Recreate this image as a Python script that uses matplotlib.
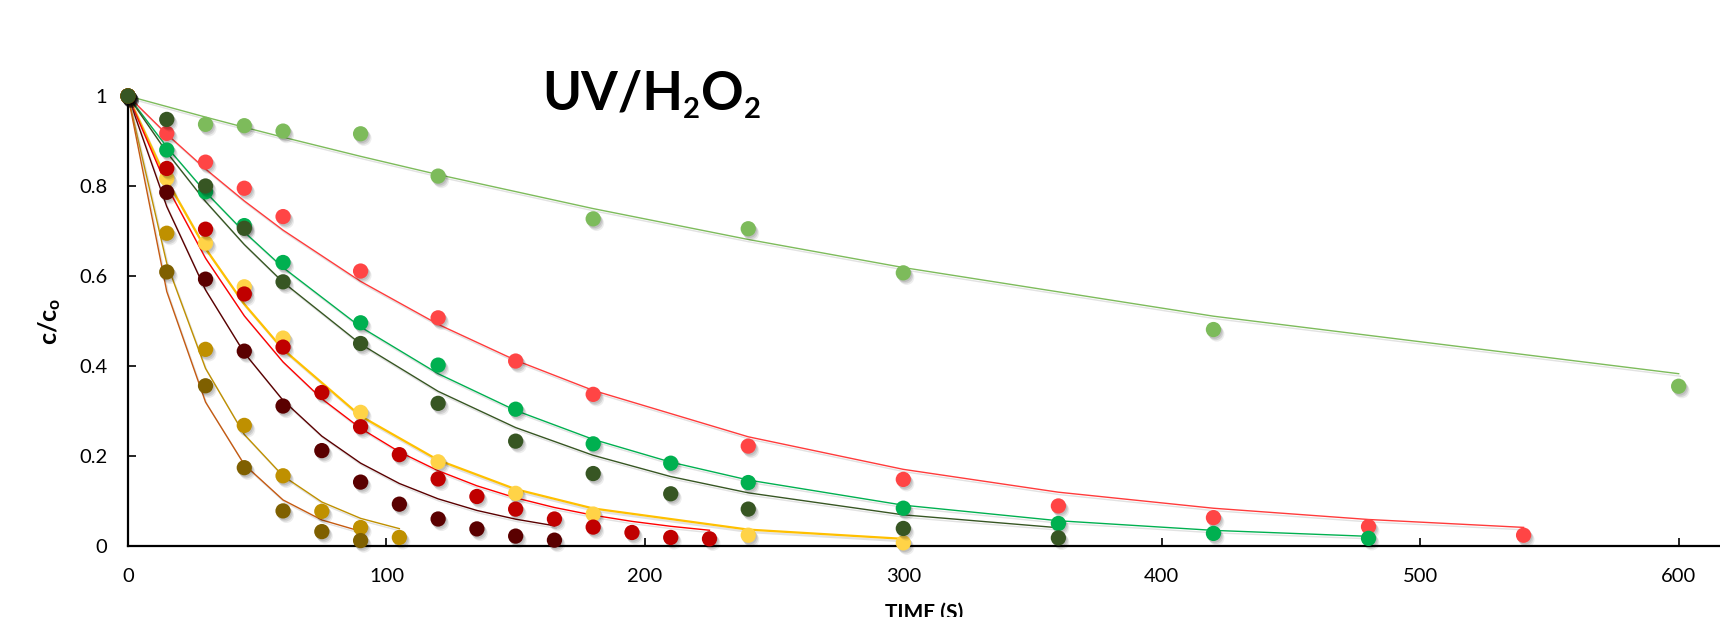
import matplotlib
matplotlib.use("Agg")
import matplotlib.pyplot as plt
import matplotlib.patheffects as pe
import numpy as np

plt.rcParams['font.family'] = ['Lato', 'DejaVu Sans']
plt.rcParams['mathtext.fontset'] = 'custom'
plt.rcParams['mathtext.rm'] = 'Lato:bold'
plt.rcParams['mathtext.it'] = 'Lato:bold'
plt.rcParams['mathtext.bf'] = 'Lato:bold'

# ---- data ----
A_t = [0, 30, 45, 60, 90, 120, 180, 240, 300, 420, 600]
A_c = [1, 0.937, 0.934, 0.922, 0.916, 0.822, 0.727, 0.705, 0.607, 0.481, 0.355]

B_t = [0, 15, 30, 45, 60, 90, 120, 150, 180, 240, 300, 360, 420, 480, 540]
B_c = [1, 0.917, 0.853, 0.795, 0.732, 0.611, 0.507, 0.411, 0.337, 0.222, 0.148, 0.089, 0.063, 0.043, 0.024]

C_t = [0, 15, 30, 45, 60, 90, 120, 150, 180, 210, 240, 300, 360, 420, 480]
C_c = [1, 0.880, 0.787, 0.712, 0.630, 0.496, 0.402, 0.304, 0.227, 0.184, 0.141, 0.084, 0.050, 0.028, 0.017]

D_t = [0, 15, 30, 45, 60, 90, 120, 150, 180, 210, 240, 300, 360]
D_c = [1, 0.948, 0.800, 0.706, 0.587, 0.450, 0.317, 0.233, 0.161, 0.116, 0.082, 0.039, 0.018]

E_t = [0, 15, 30, 45, 60, 90, 120, 150, 180, 240, 300]
E_c = [1, 0.817, 0.673, 0.576, 0.462, 0.297, 0.187, 0.117, 0.071, 0.024, 0.007]

F_t = [0, 15, 30, 45, 60, 75, 90, 105, 120, 135, 150, 165, 180, 195, 210, 225]
F_c = [1, 0.839, 0.704, 0.560, 0.442, 0.341, 0.265, 0.203, 0.149, 0.110, 0.082, 0.060, 0.042, 0.030, 0.019, 0.016]

G_t = [0, 15, 30, 45, 60, 75, 90, 105, 120, 135, 150, 165]
G_c = [1, 0.786, 0.593, 0.433, 0.311, 0.212, 0.142, 0.093, 0.060, 0.038, 0.022, 0.013]

H_t = [0, 15, 30, 45, 60, 75, 90, 105]
H_c = [1, 0.695, 0.437, 0.268, 0.156, 0.077, 0.041, 0.019]

I_t = [0, 15, 30, 45, 60, 75, 90]
I_c = [1, 0.609, 0.356, 0.174, 0.078, 0.032, 0.012]

# pseudo-first-order rate constants of the fitted curves (1/s)
rate_k = [0.0016, 0.0059, 0.0080, 0.0089, 0.0138, 0.0149, 0.0188, 0.031, 0.038]

series_t = [A_t, B_t, C_t, D_t, E_t, F_t, G_t, H_t, I_t]
series_c = [A_c, B_c, C_c, D_c, E_c, F_c, G_c, H_c, I_c]
marker_colors = ['#7DBB5B', '#FF4545', '#00B050', '#375623', '#FFD347',
                 '#C00000', '#5A0000', '#BF9000', '#7F6000']
line_colors = ['#7DBB5B', '#FF3B3B', '#00B050', '#375623', '#FFC000',
               '#FF0000', '#5A0000', '#BF9000', '#C55A11']
line_widths = [1.0, 1.0, 1.0, 1.0, 1.6, 1.0, 1.0, 1.0, 1.0]
draw_order = [0, 1, 2, 4, 5, 6, 7, 8, 3]

xticks = [0, 100, 200, 300, 400, 500, 600]
yticks = [0, 0.2, 0.4, 0.6, 0.8, 1.0]
ytick_labels = ['0', '0.2', '0.4', '0.6', '0.8', '1']

title_parts = [('UV/H', False), ('2', True), ('O', False), ('2', True)]

W, H = 1720, 617
fig = plt.figure(figsize=(W / 100, H / 100), dpi=100)
ax = fig.add_axes([128 / W, 1 - 546 / H, 1 - 128 / W, 450 / H])

line_fx = [pe.SimpleLineShadow(offset=(1.2, -1.8), shadow_color='0.55', alpha=0.25), pe.Normal()]
mark_fx = [pe.SimplePatchShadow(offset=(0.8, -1.2), shadow_rgbFace='black', alpha=0.10),
           pe.SimplePatchShadow(offset=(1.6, -2.2), shadow_rgbFace='black', alpha=0.10),
           pe.SimplePatchShadow(offset=(2.4, -3.2), shadow_rgbFace='black', alpha=0.07),
           pe.Normal()]

for i in draw_order:
    t = np.array(series_t[i], dtype=float)
    fit = np.exp(-rate_k[i] * t)
    ax.plot(t, fit, color=line_colors[i], lw=line_widths[i], zorder=2,
            path_effects=line_fx, clip_on=False)

for i in draw_order:
    ax.plot(series_t[i], series_c[i], linestyle='none', marker='o', markersize=11,
            markerfacecolor=marker_colors[i], markeredgewidth=0, zorder=3,
            path_effects=mark_fx, clip_on=False)

ax.set_xlim(0, 616)
ax.set_ylim(0, 1)
ax.set_xticks(xticks)
ax.set_xticklabels([str(v) for v in xticks])
ax.set_yticks(yticks)
ax.set_yticklabels(ytick_labels)

for s in ['top', 'right']:
    ax.spines[s].set_visible(False)
for s in ['left', 'bottom']:
    ax.spines[s].set_linewidth(1.6)
    ax.spines[s].set_color('black')
    ax.spines[s].set_zorder(1)

ax.tick_params(axis='both', direction='in', length=6, width=1.2, labelsize=14.5,
               colors='black')
ax.tick_params(axis='y', pad=15)
ax.tick_params(axis='x', pad=16)

ax.set_xlabel('TIME (S)', fontsize=15, fontweight='bold')
ax.xaxis.set_label_coords(0.5, -0.127)
ax.set_ylabel('c/c$_o$', fontsize=18, fontweight='bold')
ax.yaxis.set_label_coords(-0.041, 0.5)

# title built from pieces so the subscripts can be sized like the reference
renderer = fig.canvas.get_renderer()
base_y = H - 110
texts = []
x_cursor = 0.0
for s, is_sub in title_parts:
    size = 21 if is_sub else 38
    dy = -8 if is_sub else 0
    t = fig.text(x_cursor / W, (base_y + dy) / H, s, fontsize=size, fontweight='bold',
                 ha='left', va='baseline')
    bb = t.get_window_extent(renderer)
    texts.append((t, x_cursor, dy))
    x_cursor += bb.width + (1 if is_sub else 0)
start = 652 - x_cursor / 2
for t, xo, dy in texts:
    t.set_x((start + xo) / W)

fig.savefig('out.png', dpi=100)
